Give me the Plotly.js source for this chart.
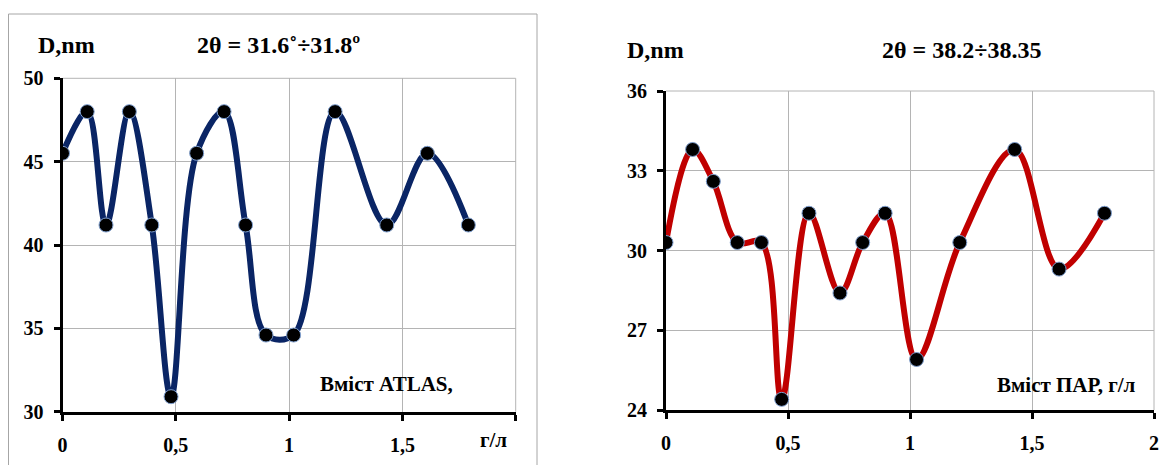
<!DOCTYPE html>
<html>
<head>
<meta charset="utf-8">
<script src="https://cdn.plot.ly/plotly-3.0.1.min.js"></script>
<style>
  html, body { margin: 0; padding: 0; background: #fff; }
  #chart { width: 1161px; height: 465px; }
</style>
</head>
<body>
<div id="chart"></div>
<script>
// ---- data ----
const atlasConc = [0, 0.109, 0.192, 0.295, 0.394, 0.479, 0.592, 0.713, 0.808, 0.898, 1.02, 1.203, 1.431, 1.61, 1.791];
const atlasD    = [45.5, 48, 41.2, 48, 41.2, 30.9, 45.5, 48, 41.2, 34.6, 34.6, 48, 41.2, 45.5, 41.2];
const parConc   = [0, 0.109, 0.194, 0.292, 0.391, 0.474, 0.586, 0.713, 0.806, 0.898, 1.027, 1.204, 1.429, 1.611, 1.797];
const parD      = [30.3, 33.8, 32.6, 30.3, 30.3, 24.4, 31.4, 28.4, 30.3, 31.4, 25.9, 30.3, 33.8, 29.3, 31.4];
const xTickVals = [0, 0.5, 1, 1.5, 2];
const xTickLeft = ['0', '0,5', '1', '1,5', ''];
const xTickRight = ['0', '0,5', '1', '1,5', '2'];
const yTickLeft = [30, 35, 40, 45, 50];
const yTickRight = [24, 27, 30, 33, 36];

const W = 1161, H = 465;
const serif = 'Liberation Serif, Times New Roman, serif';
const tickFont = {family: serif, size: 20, color: '#000'};

function px(x) { return x / W; }
function py(y) { return 1 - y / H; }

const traces = [
  {
    x: atlasConc, y: atlasD, xaxis: 'x', yaxis: 'y', type: 'scatter', mode: 'lines+markers',
    line: {shape: 'spline', smoothing: 1, color: '#0a2565', width: 6},
    marker: {size: 14, color: '#000', line: {color: '#7f9fcf', width: 1}},
    hoverinfo: 'x+y', showlegend: false
  },
  {
    x: parConc, y: parD, xaxis: 'x2', yaxis: 'y2', type: 'scatter', mode: 'lines+markers',
    line: {shape: 'spline', smoothing: 1, color: '#c00000', width: 6},
    marker: {size: 14, color: '#000', line: {color: '#7f9fcf', width: 1}},
    hoverinfo: 'x+y', showlegend: false
  }
];

const axBase = {
  showline: true, linecolor: '#000', linewidth: 3,
  showgrid: true, gridcolor: '#b4b4b4', gridwidth: 1,
  zeroline: false, ticks: 'outside', ticklen: 6, tickwidth: 3, tickcolor: '#000',
  tickfont: tickFont, fixedrange: true
};

const layout = {
  width: W, height: H,
  margin: {l: 0, r: 0, t: 0, b: 0},
  paper_bgcolor: '#fff', plot_bgcolor: '#fff',
  xaxis: Object.assign({}, axBase, {
    domain: [px(62.5), px(515.7)], range: [0, 2], tickmode: 'array',
    tickvals: xTickVals, ticktext: xTickLeft, anchor: 'y', ticklabelstandoff: 7
  }),
  yaxis: Object.assign({}, axBase, {
    domain: [py(411.7), py(78.3)], range: [30, 50], tickmode: 'array',
    tickvals: yTickLeft, ticktext: yTickLeft.map(String), anchor: 'x', ticklabelstandoff: 6
  }),
  xaxis2: Object.assign({}, axBase, {
    domain: [px(666), px(1154)], range: [0, 2], tickmode: 'array',
    tickvals: xTickVals, ticktext: xTickRight, anchor: 'y2', ticklabelstandoff: 7
  }),
  yaxis2: Object.assign({}, axBase, {
    domain: [py(410), py(91)], range: [24, 36], tickmode: 'array',
    tickvals: yTickRight, ticktext: yTickRight.map(String), anchor: 'x2', ticklabelstandoff: 6
  }),
  shapes: [
    // outer frame of the left chart
    {type: 'rect', xref: 'paper', yref: 'paper', x0: px(8.5), x1: px(537), y0: py(480), y1: py(14),
     line: {color: '#a6a6a6', width: 1}, fillcolor: 'rgba(0,0,0,0)', layer: 'below'},
    // top / right plot-area borders
    {type: 'line', xref: 'x domain', yref: 'y domain', x0: 0, x1: 1, y0: 1, y1: 1, line: {color: '#b4b4b4', width: 1}, layer: 'below'},
    {type: 'line', xref: 'x domain', yref: 'y domain', x0: 1, x1: 1, y0: 0, y1: 1, line: {color: '#b4b4b4', width: 1}, layer: 'below'},
    {type: 'line', xref: 'x2 domain', yref: 'y2 domain', x0: 0, x1: 1, y0: 1, y1: 1, line: {color: '#b4b4b4', width: 1}, layer: 'below'},
    {type: 'line', xref: 'x2 domain', yref: 'y2 domain', x0: 1, x1: 1, y0: 0, y1: 1, line: {color: '#b4b4b4', width: 1}, layer: 'below'}
  ],
  annotations: [
    {text: '<b>D,nm</b>', xref: 'paper', yref: 'paper', x: px(36), y: py(45), xanchor: 'left', yanchor: 'middle',
     showarrow: false, font: {family: serif, size: 24, color: '#000'}},
    {text: '<b>2θ = 31.6˚÷31.8º</b>', xref: 'paper', yref: 'paper', x: px(195), y: py(45), xanchor: 'left', yanchor: 'middle',
     showarrow: false, font: {family: serif, size: 24, color: '#000'}},
    {text: '<b>D,nm</b>', xref: 'paper', yref: 'paper', x: px(625), y: py(50), xanchor: 'left', yanchor: 'middle',
     showarrow: false, font: {family: serif, size: 24, color: '#000'}},
    {text: '<b>2θ = 38.2÷38.35</b>', xref: 'paper', yref: 'paper', x: px(880), y: py(50), xanchor: 'left', yanchor: 'middle',
     showarrow: false, font: {family: serif, size: 24, color: '#000'}},
    {text: '<b>Вміст ATLAS,</b>', xref: 'paper', yref: 'paper', x: px(455), y: py(384), xanchor: 'right', yanchor: 'middle',
     showarrow: false, font: {family: serif, size: 21, color: '#000'}},
    {text: '<b>г/л</b>', xref: 'paper', yref: 'paper', x: px(494), y: py(440), xanchor: 'center', yanchor: 'middle',
     showarrow: false, font: {family: serif, size: 21, color: '#000'}},
    {text: '<b>Вміст ПАР, г/л</b>', xref: 'paper', yref: 'paper', x: px(1138), y: py(385), xanchor: 'right', yanchor: 'middle',
     showarrow: false, font: {family: serif, size: 21, color: '#000'}}
  ]
};

// bold tick labels
['xaxis','yaxis','xaxis2','yaxis2'].forEach(k => {
  layout[k].ticktext = layout[k].ticktext.map(t => t === '' ? '' : '<b>' + t + '</b>');
});

Plotly.newPlot('chart', traces, layout, {displayModeBar: false, staticPlot: true});
</script>
</body>
</html>
